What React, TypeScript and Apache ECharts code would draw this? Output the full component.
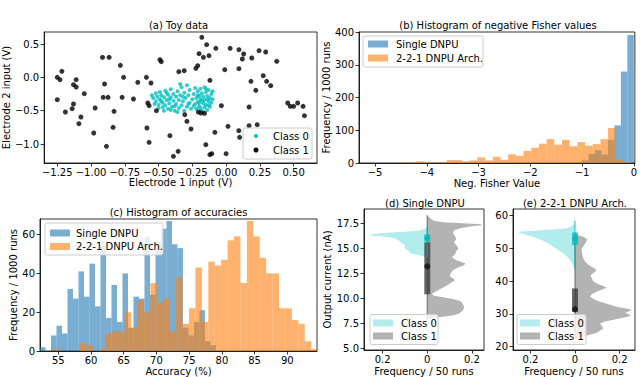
import React, { useEffect, useRef } from 'react';
import * as echarts from 'echarts';

const FONT = "'DejaVu Sans', sans-serif";

// ---------------- (a) Toy data ----------------
const class0Points: number[][] = [
  [-0.55, -0.27], [-0.54, -0.31], [-0.52, -0.24], [-0.52, -0.36], [-0.51, -0.29], [-0.5, -0.41], [-0.49, -0.22], [-0.49, -0.33],
  [-0.48, -0.27], [-0.47, -0.45], [-0.47, -0.38], [-0.46, -0.3], [-0.45, -0.2], [-0.45, -0.42], [-0.44, -0.34], [-0.43, -0.26],
  [-0.43, -0.47], [-0.42, -0.39], [-0.41, -0.3], [-0.41, -0.18], [-0.4, -0.44], [-0.39, -0.35], [-0.39, -0.25], [-0.38, -0.5],
  [-0.37, -0.4], [-0.37, -0.29], [-0.36, -0.21], [-0.35, -0.46], [-0.35, -0.34], [-0.34, -0.27], [-0.33, -0.15], [-0.33, -0.42],
  [-0.32, -0.36], [-0.31, -0.23], [-0.31, -0.5], [-0.3, -0.31], [-0.29, -0.44], [-0.29, -0.12], [-0.28, -0.27], [-0.27, -0.38],
  [-0.27, -0.19], [-0.26, -0.47], [-0.25, -0.33], [-0.5, -0.46], [-0.53, -0.4], [-0.46, -0.5], [-0.44, -0.23], [-0.41, -0.49],
  [-0.36, -0.52], [-0.34, -0.1], [-0.48, -0.36], [-0.42, -0.33], [-0.38, -0.43], [-0.32, -0.29], [-0.28, -0.4],
  [-0.24, -0.25], [-0.23, -0.4], [-0.23, -0.16], [-0.22, -0.31], [-0.22, -0.47], [-0.21, -0.21], [-0.21, -0.37], [-0.2, -0.28],
  [-0.2, -0.43], [-0.19, -0.17], [-0.19, -0.33], [-0.18, -0.5], [-0.18, -0.24], [-0.17, -0.39], [-0.17, -0.29], [-0.16, -0.15],
  [-0.16, -0.45], [-0.16, -0.34], [-0.15, -0.22], [-0.15, -0.41], [-0.14, -0.28], [-0.14, -0.49], [-0.13, -0.36], [-0.13, -0.19],
  [-0.12, -0.31], [-0.12, -0.44], [-0.11, -0.25], [-0.11, -0.38], [-0.1, -0.33], [-0.1, -0.21], [-0.19, -0.46], [-0.15, -0.17],
  [-0.21, -0.27], [-0.13, -0.42], [-0.24, -0.43], [-0.17, -0.52], [-0.18, -0.35], [-0.14, -0.33], [-0.2, -0.38],
];
const class1Points: number[][] = [
  [-1.216, 0.09], [-1.25, 0.0], [-1.23, -0.035], [-1.25, -0.335], [-1.19, -0.52], [-1.13, -0.11], [-1.11, -0.035], [-1.11, -0.145],
  [-1.13, -0.4], [-1.14, -0.47], [-1.075, -0.595], [-1.09, -0.695], [-1.05, -0.245], [-0.97, -0.46], [-0.98, -0.835], [-0.915, 0.3],
  [-0.866, 0.3], [-0.9, -0.1], [-0.91, -0.3], [-0.874, -0.3], [-0.83, -0.51], [-0.837, -0.75], [-0.886, -1.035], [-0.783, 0.18],
  [-0.759, 0.0], [-0.77, -0.3], [-0.686, -0.325], [-0.654, -0.075], [-0.59, 0.0], [-0.556, -0.085], [-0.58, -0.385], [-0.586, -0.76],
  [-0.57, -0.975], [-0.49, 0.265], [-0.48, 0.235], [-0.516, -0.5], [-0.35, 0.085], [-0.31, 0.1], [-0.416, -0.875], [-0.39, -1.185],
  [-0.355, -1.11], [-0.306, -0.56], [-0.29, -0.66], [-0.26, -0.775], [-0.224, 0.135], [-0.21, 0.175], [-0.18, 0.6], [-0.144, 0.49],
  [-0.2, 0.355], [-0.168, 0.3], [-0.127, 0.325], [-0.076, 0.435], [-0.12, -0.045], [-0.205, -0.52], [-0.186, -0.535], [-0.15, -1.01],
  [-0.12, -1.16], [-0.106, -1.145], [-0.083, -0.825], [-0.035, -0.425], [-0.01, 0.115], [0.0, -1.145], [0.014, -0.735], [0.03, 0.435],
  [0.095, 0.415], [0.095, 0.13], [0.12, 0.275], [0.13, 0.35], [0.19, 0.29], [0.244, 0.4], [0.293, 0.38], [0.375, 0.24],
  [0.275, 0.025], [0.3, -0.06], [0.33, -0.125], [0.184, -0.06], [0.22, -0.195], [0.17, -0.445], [0.17, -0.725], [0.23, -0.71],
  [0.094, -0.8], [0.1, -0.9], [0.456, -0.385], [0.475, -0.435], [0.5, -0.435], [0.53, -0.385], [0.57, -0.435], [0.58, -0.575],
  [-0.57, -0.425], [-0.16, -0.54],
];
const toyXTicks = [-1.25, -1.0, -0.75, -0.5, -0.25, 0, 0.25, 0.5];
const toyYTicks = [-1.0, -0.5, 0, 0.5];

// ---------------- (b) Negative Fisher values ----------------
const fisherXTicks = [-5, -4, -3, -2, -1, 0];
const fisherYTicks = [0, 100, 200, 300, 400];
const fisherArchBinStart = -4.507;
const fisherArchBinWidth = 0.1485;
const fisherArchCounts = [2, 2, 5, 2, 1, 3, 9, 9, 5, 8, 17, 8, 19, 10, 27, 22, 37, 47, 59, 73, 56, 71, 51, 64, 53, 58, 73, 107, 10, 3];
const fisherSingleBinStart = -1.125;
const fisherSingleBinWidth = 0.125;
const fisherSingleCounts = [2, 8, 28, 39, 26, 71, 115, 280, 392];

// ---------------- (c) Accuracies ----------------
const accXTicks = [55, 60, 65, 70, 75, 80, 85, 90];
const accYTicks = [0, 20, 40, 60];
const accSingleBinStart = 52.2;
const accSingleBinWidth = 0.8405;
const accSingleCounts = [2, 0, 8, 13, 9, 32, 27, 41, 28, 45, 23, 54, 17, 34, 15, 40, 12, 28, 27, 59, 29, 56, 63, 67, 55, 53, 12, 8, 15, 21, 5, 3];
const accArchBinStart = 54.33;
const accArchBinWidth = 0.983;
const accArchCounts = [1, 0, 0, 0, 4, 3, 0, 1, 9, 10, 10, 20, 12, 26, 20, 35, 25, 27, 10, 38, 14, 22, 43, 15, 46, 44, 47, 57, 59, 35, 67, 59, 48, 40, 40, 22, 22, 16, 14, 5, 1];

// ---------------- (d) Single DNPU output distributions ----------------
const freqTicks = [-0.2, 0, 0.2];
const singleYTicks = [5, 7.5, 10, 12.5, 15, 17.5];
const singleC0Levels = [17.2, 17.0, 16.8, 16.7, 16.6, 16.5, 16.4, 16.3, 16.2, 16.1, 16.0, 15.8, 15.6, 15.4, 15.2, 15.0, 14.8, 14.6, 14.5, 14.4, 14.25, 14.1];
const singleC0Density = [0, 0.006, 0.03, 0.07, 0.14, 0.21, 0.25, 0.26, 0.21, 0.17, 0.15, 0.13, 0.12, 0.105, 0.1, 0.1, 0.09, 0.075, 0.085, 0.055, 0.025, 0];
const singleC1Levels = [18.33, 18.0, 17.75, 17.6, 17.5, 17.4, 17.3, 17.2, 17.0, 16.8, 16.5, 16.2, 15.9, 15.6, 15.3, 15.0, 14.7, 14.4, 14.1, 13.8, 13.5, 13.3, 13.1, 12.8, 12.5, 12.2, 12.0, 11.8, 11.6, 11.3, 11.0, 10.7, 10.45, 10.25, 10.1, 9.9, 9.7, 9.4, 9.1, 8.8, 8.5, 8.3, 8.15, 8.0, 7.85];
const singleC1Density = [0, 0.012, 0.03, 0.07, 0.16, 0.24, 0.245, 0.2, 0.15, 0.12, 0.115, 0.125, 0.13, 0.12, 0.13, 0.14, 0.13, 0.125, 0.11, 0.13, 0.17, 0.165, 0.14, 0.115, 0.105, 0.1, 0.115, 0.125, 0.11, 0.09, 0.065, 0.04, 0.02, 0.03, 0.07, 0.12, 0.15, 0.16, 0.165, 0.16, 0.145, 0.12, 0.07, 0.02, 0];
const singleC0Box = { lo: 15.67, hi: 16.4, whiskLo: 14.1, whiskHi: 17.2, median: 16.0 };
const singleC1Box = { lo: 10.4, hi: 15.6, whiskLo: 7.9, whiskHi: 18.3, median: 13.2 };

// ---------------- (e) 2-2-1 DNPU Arch. output distributions ----------------
const archYTicks = [20, 30, 40, 50, 60];
const archC0Levels = [59.5, 58.5, 57.5, 56.8, 56.2, 55.8, 55.4, 55.1, 54.8, 54.2, 53.5, 52.6, 51.5, 50.5, 49.5, 48.5, 47.5, 46.5, 45.5, 44.4, 43.2];
const archC0Density = [0, 0.003, 0.006, 0.015, 0.04, 0.1, 0.19, 0.255, 0.25, 0.22, 0.185, 0.15, 0.12, 0.097, 0.075, 0.052, 0.035, 0.022, 0.013, 0.007, 0];
const archC1Levels = [55.0, 54.2, 53.5, 52.8, 52.0, 51.0, 50.0, 49.0, 48.0, 47.0, 46.0, 45.0, 44.2, 43.4, 42.6, 41.9, 41.0, 40.0, 39.2, 38.5, 38.0, 37.4, 36.8, 36.0, 35.3, 34.5, 33.7, 33.0, 32.2, 31.7, 31.3, 30.9, 30.4, 29.9, 29.4, 28.9, 28.2, 27.6, 27.0, 26.3, 25.6, 25.0, 24.3, 23.7, 23.1, 22.5, 22.0];
const archC1Density = [0, 0.01, 0.04, 0.055, 0.05, 0.04, 0.03, 0.03, 0.033, 0.037, 0.045, 0.06, 0.08, 0.097, 0.085, 0.07, 0.075, 0.082, 0.1, 0.13, 0.142, 0.12, 0.097, 0.075, 0.067, 0.085, 0.112, 0.15, 0.187, 0.23, 0.255, 0.245, 0.225, 0.24, 0.25, 0.22, 0.172, 0.13, 0.112, 0.12, 0.127, 0.115, 0.097, 0.07, 0.037, 0.012, 0];
const archC0Box = { lo: 51.05, hi: 54.9, whiskLo: 44.0, whiskHi: 58.5, median: 53.1 };
const archC1Box = { lo: 30.7, hi: 37.8, whiskLo: 23.0, whiskHi: 53.5, median: 31.4 };

// ---------------- colours ----------------
const BLUE = 'rgba(31,119,180,0.6)';
const ORANGE = 'rgba(255,127,14,0.6)';
const CYAN_DOT = '#00bfbf';
const CYAN_FILL = 'rgba(0,191,191,0.3)';
const GRAY_FILL = 'rgba(128,128,128,0.6)';

const MINUS = '\u2212';
const fmt = (d: number) => (v: number) => {
  const s = Math.abs(v) < 1e-9 ? (0).toFixed(d) : v.toFixed(d);
  return s.replace('-', MINUS);
};
const absFmt = (v: number) => (Math.abs(v) < 1e-9 ? '0' : String(Math.round(Math.abs(v) * 10) / 10));

const GRIDS = [
  { left: 40, top: 32, width: 277, height: 131 },   // a
  { left: 359, top: 32, width: 278, height: 131 },  // b
  { left: 40, top: 219, width: 277, height: 132 },  // c
  { left: 364, top: 209, width: 120, height: 141 }, // d
  { left: 513, top: 209, width: 122, height: 141 }, // e
];

const textStyle = { fontSize: 10, fontFamily: FONT, color: '#000' };

function axis(gi: number, min: number, max: number, ticks: number[], formatter: any, name: string, nameGap: number, isY: boolean) {
  return {
    type: 'value',
    gridIndex: gi,
    min,
    max,
    axisLine: { show: true, onZero: false, lineStyle: { color: '#000', width: 0.8 } },
    splitLine: { show: false },
    axisTick: { show: true, inside: false, length: 3.5, lineStyle: { color: '#000', width: 0.8 }, customValues: ticks },
    axisLabel: { customValues: ticks, formatter, margin: isY ? 5 : 4, ...textStyle },
    name,
    nameLocation: 'middle',
    nameGap,
    nameTextStyle: { ...textStyle },
  };
}

function histSeries(gi: number, start: number, width: number, counts: number[], fill: string) {
  const data = counts.map((c, i) => [start + i * width, start + (i + 1) * width, c]);
  return {
    type: 'custom',
    xAxisIndex: gi,
    yAxisIndex: gi,
    clip: true,
    silent: true,
    encode: { x: [0, 1], y: 2 },
    data,
    renderItem: (_p: any, api: any) => {
      const tl = api.coord([api.value(0), api.value(2)]);
      const br = api.coord([api.value(1), 0]);
      return {
        type: 'rect',
        shape: { x: tl[0], y: tl[1], width: br[0] - tl[0], height: br[1] - tl[1] },
        style: { fill },
      };
    },
  };
}

function violinSeries(gi: number, levels: number[], density: number[], side: number, fill: string) {
  return {
    type: 'custom',
    xAxisIndex: gi,
    yAxisIndex: gi,
    silent: true,
    data: levels.map((y, i) => [side * density[i], y]),
    encode: { x: 0, y: 1 },
    renderItem: (params: any, api: any) => {
      if (params.dataIndex !== 0) return null;
      const pts: number[][] = [api.coord([0, levels[0]])];
      levels.forEach((y, i) => pts.push(api.coord([side * density[i], y])));
      pts.push(api.coord([0, levels[levels.length - 1]]));
      return { type: 'polygon', shape: { points: pts }, style: { fill } };
    },
  };
}

function vbarSeries(gi: number, lo: number, hi: number, pxWidth: number, fill: string) {
  return {
    type: 'custom',
    xAxisIndex: gi,
    yAxisIndex: gi,
    silent: true,
    data: [[0, lo, hi]],
    encode: { x: 0, y: [1, 2] },
    renderItem: (_p: any, api: any) => {
      const top = api.coord([0, api.value(2)]);
      const bot = api.coord([0, api.value(1)]);
      return {
        type: 'rect',
        shape: { x: top[0] - pxWidth / 2, y: top[1], width: pxWidth, height: bot[1] - top[1] },
        style: { fill },
      };
    },
  };
}

function dotSeries(gi: number, y: number, color: string) {
  return {
    type: 'scatter',
    xAxisIndex: gi,
    yAxisIndex: gi,
    silent: true,
    symbolSize: 6,
    itemStyle: { color },
    data: [[0, y]],
  };
}

function boxSeries(gi: number, box: any, whiskColor: string, boxColor: string) {
  return [
    vbarSeries(gi, box.whiskLo, box.whiskHi, 1.5, whiskColor),
    vbarSeries(gi, box.lo, box.hi, 6, boxColor),
  ];
}

// ---------- graphic helpers ----------
const Z = 100;
const txt = (x: number, y: number, text: string, align = 'center') => ({
  type: 'text',
  z: Z,
  x,
  y,
  style: { text, fontSize: 10, fontFamily: FONT, fill: '#000', align, verticalAlign: 'middle' },
});
const frame = (x: number, y: number, w: number, h: number) => ({
  type: 'rect',
  z: Z,
  shape: { x, y, width: w, height: h, r: 2 },
  style: { fill: 'rgba(255,255,255,0.8)', stroke: '#cccccc', lineWidth: 1 },
});
const patch = (x: number, y: number, fill: string) => ({
  type: 'rect',
  z: Z,
  shape: { x, y, width: 20, height: 7 },
  style: { fill },
});
const dot = (cx: number, cy: number, r: number, fill: string) => ({
  type: 'circle',
  z: Z,
  shape: { cx, cy, r },
  style: { fill },
});

function buildOption() {
  const series: any[] = [
    // (a)
    { type: 'scatter', xAxisIndex: 0, yAxisIndex: 0, silent: true, symbolSize: 4, itemStyle: { color: CYAN_DOT }, data: class0Points },
    { type: 'scatter', xAxisIndex: 0, yAxisIndex: 0, silent: true, symbolSize: 5, itemStyle: { color: '#000' }, data: class1Points },
    // (b)
    histSeries(1, fisherSingleBinStart, fisherSingleBinWidth, fisherSingleCounts, BLUE),
    histSeries(1, fisherArchBinStart, fisherArchBinWidth, fisherArchCounts, ORANGE),
    // (c)
    histSeries(2, accSingleBinStart, accSingleBinWidth, accSingleCounts, BLUE),
    histSeries(2, accArchBinStart, accArchBinWidth, accArchCounts, ORANGE),
    // (d)
    violinSeries(3, singleC0Levels, singleC0Density, -1, CYAN_FILL),
    violinSeries(3, singleC1Levels, singleC1Density, 1, GRAY_FILL),
    ...boxSeries(3, singleC1Box, 'rgba(90,90,90,0.6)', 'rgba(60,60,60,0.78)'),
    ...boxSeries(3, singleC0Box, 'rgba(0,190,190,0.6)', 'rgba(0,190,190,0.75)'),
    dotSeries(3, singleC1Box.median, '#111'),
    dotSeries(3, singleC0Box.median, '#10b4b4'),
    // (e)
    violinSeries(4, archC0Levels, archC0Density, -1, CYAN_FILL),
    violinSeries(4, archC1Levels, archC1Density, 1, GRAY_FILL),
    ...boxSeries(4, archC1Box, 'rgba(90,90,90,0.6)', 'rgba(60,60,60,0.78)'),
    ...boxSeries(4, archC0Box, 'rgba(0,190,190,0.6)', 'rgba(0,190,190,0.75)'),
    dotSeries(4, archC1Box.median, '#111'),
    dotSeries(4, archC0Box.median, '#10b4b4'),
  ];

  const graphic: any[] = [
    // titles
    txt(178.5, 25, '(a) Toy data'),
    txt(498, 25, '(b) Histogram of negative Fisher values'),
    txt(178.5, 212.5, '(c) Histogram of accuracies'),
    txt(425, 203, '(d) Single DNPU'),
    txt(575, 203, '(e) 2-2-1 DNPU Arch.'),
    // (a) legend
    frame(243, 128, 69, 31),
    dot(256, 136, 2, CYAN_DOT),
    txt(273, 136, 'Class 0', 'left'),
    dot(256, 150, 2.5, '#000'),
    txt(273, 150, 'Class 1', 'left'),
    // (b) legend
    frame(363, 36, 120, 31),
    patch(368, 40.5, BLUE),
    txt(396, 44, 'Single DNPU', 'left'),
    patch(368, 54.5, ORANGE),
    txt(396, 58, '2-2-1 DNPU Arch.', 'left'),
    // (c) legend
    frame(45, 223, 118, 32),
    patch(50, 229.5, BLUE),
    txt(76, 233, 'Single DNPU', 'left'),
    patch(50, 243, ORANGE),
    txt(76, 246.5, '2-2-1 DNPU Arch.', 'left'),
    // (d) legend
    frame(370, 314.5, 68, 30),
    patch(373, 319.5, CYAN_FILL),
    txt(401, 323, 'Class 0', 'left'),
    patch(373, 332.5, GRAY_FILL),
    txt(401, 336.5, 'Class 1', 'left'),
    // (e) legend
    frame(517, 314.5, 69, 30),
    patch(520, 319.5, CYAN_FILL),
    txt(548, 323, 'Class 0', 'left'),
    patch(520, 332.5, GRAY_FILL),
    txt(548, 336.5, 'Class 1', 'left'),
  ];

  return {
    animation: false,
    backgroundColor: '#fff',
    textStyle: { fontFamily: FONT },
    grid: GRIDS.map((g) => ({ ...g, show: true, borderColor: '#000', borderWidth: 0.8, backgroundColor: 'transparent' })),
    xAxis: [
      axis(0, -1.347, 0.673, toyXTicks, fmt(2), 'Electrode 1 input (V)', 14, false),
      axis(1, -5.31, 0.02, fisherXTicks, fmt(0), 'Neg. Fisher Value', 15, false),
      axis(2, 52.2, 94.54, accXTicks, fmt(0), 'Accuracy (%)', 15, false),
      axis(3, -0.2839, 0.2543, freqTicks, absFmt, 'Frequency / 50 runs', 16, false),
      axis(4, -0.278, 0.269, freqTicks, absFmt, 'Frequency / 50 runs', 16, false),
    ],
    yAxis: [
      axis(0, -1.285, 0.68, toyYTicks, fmt(1), 'Electrode 2 input (V)', 31, true),
      axis(1, 0, 401, fisherYTicks, fmt(0), 'Frequency / 1000 runs', 25, true),
      axis(2, 0, 68, accYTicks, fmt(0), 'Frequency / 1000 runs', 18, true),
      axis(3, 4.83, 18.93, singleYTicks, fmt(1), 'Output current (nA)', 28, true),
      axis(4, 19.0, 62.05, archYTicks, fmt(0), '', 20, true),
    ],
    series,
    graphic,
  };
}

export default function App() {
  const ref = useRef<HTMLDivElement>(null);
  useEffect(() => {
    if (!ref.current) return;
    const chart = echarts.init(ref.current, undefined, { renderer: 'svg' });
    chart.setOption(buildOption() as any);
    return () => chart.dispose();
  }, []);
  return (
    <div
      ref={ref}
      style={{ position: 'fixed', left: 0, top: 0, width: 640, height: 377, background: '#fff' }}
    />
  );
}
